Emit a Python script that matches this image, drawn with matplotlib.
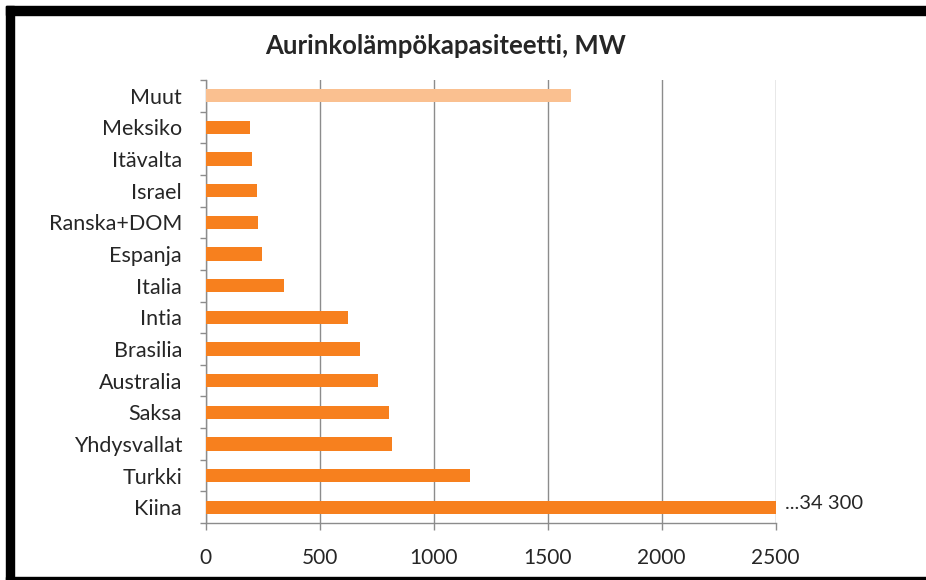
import matplotlib
matplotlib.use("Agg")
import matplotlib.pyplot as plt
from matplotlib.patches import Rectangle
from matplotlib.ticker import FixedLocator

# data (MW), bottom to top
countries = ["Kiina", "Turkki", "Yhdysvallat", "Saksa", "Australia", "Brasilia",
             "Intia", "Italia", "Espanja", "Ranska+DOM", "Israel", "Itävalta",
             "Meksiko", "Muut"]
capacity = [34300, 1160, 817, 805, 757, 677, 625, 345, 245, 231, 224, 203, 193, 1600]
kiina_label = "...34 300"
xticks = [0, 500, 1000, 1500, 2000, 2500]

orange = "#F7801E"
light_orange = "#FAC090"
grey = "#8C8C8C"
txt = "#262626"

plt.rcParams['font.family'] = ['Lato', 'DejaVu Sans']

W, H = 926, 580
fig = plt.figure(figsize=(W / 100, H / 100), dpi=100)
fig.patch.set_facecolor("white")

ax = fig.add_axes([205.7 / W, 1 - 523 / H, 570 / W, 443 / H])

colors = [light_orange if c == "Muut" else orange for c in countries]
ypos = list(range(len(countries)))
ax.barh(ypos, capacity, height=0.42, color=colors, zorder=3)

ax.set_xlim(0, 2500)
ax.set_ylim(-0.5, len(countries) - 0.5)
ax.set_xticks(xticks)
ax.set_xticklabels([str(t) for t in xticks])
ax.set_yticks(ypos)
ax.set_yticklabels(countries)
ax.yaxis.set_minor_locator(FixedLocator([i + 0.5 for i in range(-1, len(countries))]))

ax.grid(axis="x", color=grey, linewidth=1.0, zorder=0)
for s in ["top", "right"]:
    ax.spines[s].set_visible(False)
for s in ["left", "bottom"]:
    ax.spines[s].set_color(grey)
    ax.spines[s].set_linewidth(1.0)

ax.tick_params(axis="y", which="major", length=0, pad=17, labelsize=15.5, labelcolor=txt)
ax.tick_params(axis="y", which="minor", length=4.5, width=1.0, color=grey, direction="out")
ax.tick_params(axis="x", which="major", length=5, width=1.0, color=grey, pad=13,
               labelsize=15, labelcolor=txt)

ax.annotate(kiina_label, xy=(2500, 0), xytext=(7, 3), textcoords="offset points",
            ha="left", va="center", fontsize=14.5, color=txt, annotation_clip=False)

fig.text(0.481, 1 - 46 / H, "Aurinkolämpökapasiteetti, MW", ha="center", va="center",
         fontsize=18.5, fontweight="bold", color=txt)

# black frame (top, left, bottom)
fig.patches.append(Rectangle((6 / W, 1 - 15 / H), 1 - 6 / W, 9 / H,
                             transform=fig.transFigure, color="black", zorder=10))
fig.patches.append(Rectangle((6 / W, 0), 8 / W, 1 - 6 / H,
                             transform=fig.transFigure, color="black", zorder=10))
fig.patches.append(Rectangle((6 / W, 0), 1 - 6 / W, 3.5 / H,
                             transform=fig.transFigure, color="black", zorder=10))

fig.savefig("out.png", dpi=100)
